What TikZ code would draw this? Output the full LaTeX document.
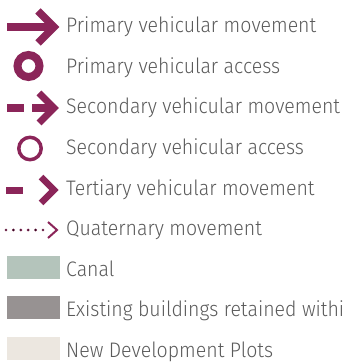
\documentclass[tikz,border=0pt]{standalone}
\usepackage{fontspec}
\setmainfont{Fira Sans Light}[FakeStretch=0.93]
\definecolor{route}{RGB}{139,37,89}
\definecolor{labelgray}{RGB}{90,90,90}
\definecolor{canalfill}{RGB}{180,196,187}
\definecolor{buildfill}{RGB}{151,146,146}
\definecolor{plotfill}{RGB}{236,231,224}
\tikzset{
  legtext/.style={anchor=base west,inner sep=0pt,text=labelgray,font=\fontsize{21}{21}\selectfont},
  route/.style={draw=route,line join=miter,line cap=butt},
  swatch/.style={minimum width=53pt,minimum height=23pt,inner sep=0pt,anchor=north west}
}
\begin{document}
\begin{tikzpicture}[x=1pt,y=-1pt]
\useasboundingbox (0,0) rectangle (342,363);
\clip (0,0) rectangle (342,363);

% Primary vehicular movement
\draw[route,line width=8] (7,27) -- (54,27);
\draw[route,line width=7.5] (38,11) -- (54,27) -- (38,43);
\node[legtext] (primmove) at (66,33) {Primary vehicular movement};

% Primary vehicular access
\draw[route,line width=8] (28.5,66) circle (11);
\node[legtext] (primaccess) at (66,73.5) {Primary vehicular access};

% Secondary vehicular movement
\draw[route,line width=8] (7,108) -- (24,108);
\draw[route,line width=8] (32,108) -- (52,108);
\draw[route,line width=7] (39,93) -- (54,108) -- (39,123);
\node[legtext] (secmove) at (66,114) {Secondary vehicular movement};

% Secondary vehicular access
\draw[route,line width=3.5] (30,148.5) circle (11.2);
\node[legtext] (secaccess) at (66,154.5) {Secondary vehicular access};

% Tertiary vehicular movement
\draw[route,line width=7] (6,190) -- (23,190);
\draw[route,line width=6.5] (41,177) -- (54,190) -- (41,203);
\node[legtext] (termove) at (66,195) {Tertiary vehicular movement};

% Quaternary movement
\foreach \dx in {0,...,5}
  \fill[route] (6+7.4*\dx,230) circle (1.2);
\draw[route,line width=2] (48,222) -- (57,230) -- (48,238);
\node[legtext] (quatmove) at (66,235.5) {Quaternary movement};

% Area fills
\node[swatch,fill=canalfill] (canal) at (7,256) {};
\node[legtext] (canaltext) at (66,276) {Canal};
\node[swatch,fill=buildfill] (buildings) at (7,296) {};
\node[legtext] (buildtext) at (66,316.5) {Existing buildings retained within};
\node[swatch,fill=plotfill] (plots) at (7,337) {};
\node[legtext] (plottext) at (66,357) {New Development Plots};
\end{tikzpicture}
\end{document}
